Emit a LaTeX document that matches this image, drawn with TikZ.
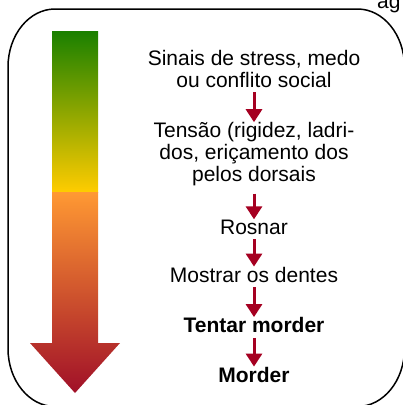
\documentclass[tikz,border=0pt]{standalone}
\usepackage{fontspec}
\setmainfont{Liberation Sans}
\usepackage{tikz}
\usetikzlibrary{
    calc,
    positioning,
    arrows.meta
}
\definecolor{stepred}{RGB}{165,0,33}
\definecolor{calmgreen}{RGB}{26,128,0}
\definecolor{warnyellow}{RGB}{255,204,0}
\definecolor{warnorange}{RGB}{255,153,51}
\definecolor{biteorange}{RGB}{214,106,48}
\definecolor{bitered}{RGB}{160,16,40}
\tikzset{
    % Arrow between two steps:
    step line/.style = {
        draw = stepred,
        line width = 3pt,
        shorten <= 5pt,
        -{Triangle[length=13pt, width=16pt]}
    },
    % Text of one step:
    step node/.style = {
        inner sep = 0pt,
        align = center,
        font = \fontsize{21}{21.7}\selectfont
    },
    % Frame round everything:
    frame/.style = {
        draw = black,
        line width = 1.5pt
    }
}

\begin{document}
\begin{tikzpicture}[x=1pt, y=-1pt]
            \useasboundingbox (0, 0) rectangle (403, 405);
            \clip (0, 0) rectangle (403, 405);
            % frame with oval corners
            \path [frame]
                (8, 67) arc [start angle=180, end angle=270, x radius=47, y radius=58]
                -- (357.5, 9)
                arc [start angle=270, end angle=360, x radius=47, y radius=58]
                -- (404.5, 348.5)
                arc [start angle=0, end angle=90, x radius=47, y radius=58]
                -- (55, 406.5)
                arc [start angle=90, end angle=180, x radius=47, y radius=58]
                -- cycle;
            \node [step node, anchor=base west] (ag) at (377, 8.3) {ag};
            % escalation arrow
            \shade [top color=calmgreen, bottom color=warnyellow]
                (52, 31) rectangle (98, 192);
            \shade [top color=warnorange, middle color=biteorange, bottom color=bitered]
                (52, 192) -- (98, 192) -- (98, 343) -- (120, 343)
                -- (75, 393) -- (30, 343) -- (52, 343) -- cycle;
            % steps (base = last line)
            \node [step node, anchor=base] (sinais) at (254, 87) {Sinais de stress, medo\\ou conflito social};
            \node [step node, anchor=base] (tensao) at (254, 181) {Tensão (rigidez, ladri-\\dos, eriçamento dos\\pelos dorsais};
            \node [step node, anchor=base] (rosnar) at (254, 234) {Rosnar};
            \node [step node, anchor=base] (dentes) at (254, 282) {Mostrar os dentes};
            \node [step node, anchor=base] (tentar) at (254, 332.5) {\textbf{Tentar morder}};
            \node [step node, anchor=base] (morder) at (254, 382) {\textbf{Morder}};
            \draw [step line] (sinais) -- (tensao);
            \draw [step line, shorten <= 8pt] (tensao) -- (rosnar);
            \draw [step line] (rosnar) -- (dentes);
            \draw [step line] (dentes) -- (tentar);
            \draw [step line] (tentar) -- (morder);
        \end{tikzpicture}
\end{document}
